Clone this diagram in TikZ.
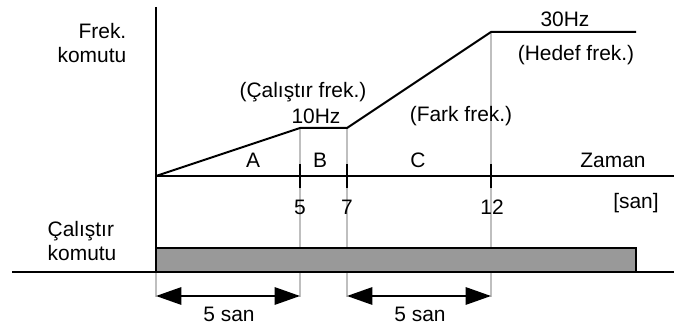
\documentclass[tikz,border=0pt]{standalone}
\usepackage{fontspec}
\setmainfont{Liberation Sans}
\usetikzlibrary{arrows.meta}

\begin{document}
\begin{tikzpicture}[x=0.75pt, y=-0.75pt, font=\fontsize{15.7}{18.5}\selectfont,
    guide/.style={black!25, line width=0.8pt},
    axis/.style={line width=2.2pt},
    span/.style={{Triangle[length=19pt,width=13pt]}-{Triangle[length=19pt,width=13pt]}, line width=1.5pt}]
        \useasboundingbox (0,0) rectangle (674,327);

        % Points
        \coordinate (t0) at (156,176);
        \coordinate (t5) at (300,128);
        \coordinate (t7) at (347,128);
        \coordinate (t12) at (491,32);
        \coordinate (tend) at (636,32);

        % Guides
        \draw[guide] (t5) -- (300,297);
        \draw[guide] (t7) -- (347,297);
        \draw[guide] (t12) -- (491,297);
        \draw[guide] (156,272) -- (156,297);

        % Run command (gray bar)
        \draw[fill=black!40, line width=1pt] (156,248) rectangle (636,272);

        % Axes
        \draw[axis] (156,7) -- (156,272);
        \draw[line width=1.6pt] (t0) -- (674,176);
        \draw[axis] (12,272) -- (674,272);

        % Ticks
        \draw[line width=1.5pt] (300,164) -- (300,188);
        \draw[line width=1.5pt] (347,164) -- (347,188);
        \draw[line width=1.5pt] (491,164) -- (491,188);

        % Frequency curve
        \draw[line width=1.5pt] (t0) -- (t5) -- (t7) -- (t12) -- (tend);

        % Arrows
        \coordinate (a0) at (156,296);
        \coordinate (a5) at (300,296);
        \coordinate (a7) at (347,296);
        \coordinate (a12) at (491,296);
        \draw[span] (a0) -- (a5);
        \draw[span] (a7) -- (a12);
        \node (s1) at (229,314) {5 san};
        \node (s2) at (420,314) {5 san};

        % Labels
        \node[anchor=east, align=right] (frek) at (131,43) {Frek.\\komutu};
        \node[anchor=west, align=left] (calis) at (43,241) {Çalıştır\\komutu};
        \node (runf) at (303,92) {(Çalıştır frek.)};
        \node (f10) at (316,116) {10Hz};
        \node (la) at (253,160) {A};
        \node (lb) at (320,160) {B};
        \node (lc) at (418,160) {C};
        \node (zaman) at (613,160) {Zaman};
        \node (unit) at (636,203) {[san]};
        \node (n5) at (300,207) {5};
        \node (n7) at (347,207) {7};
        \node (n12) at (492,207) {12};
        \node (f30) at (565,19) {30Hz};
        \node (hedef) at (576,55) {(Hedef frek.)};
        \node (fark) at (461,116) {(Fark frek.)};
\end{tikzpicture}
\end{document}
